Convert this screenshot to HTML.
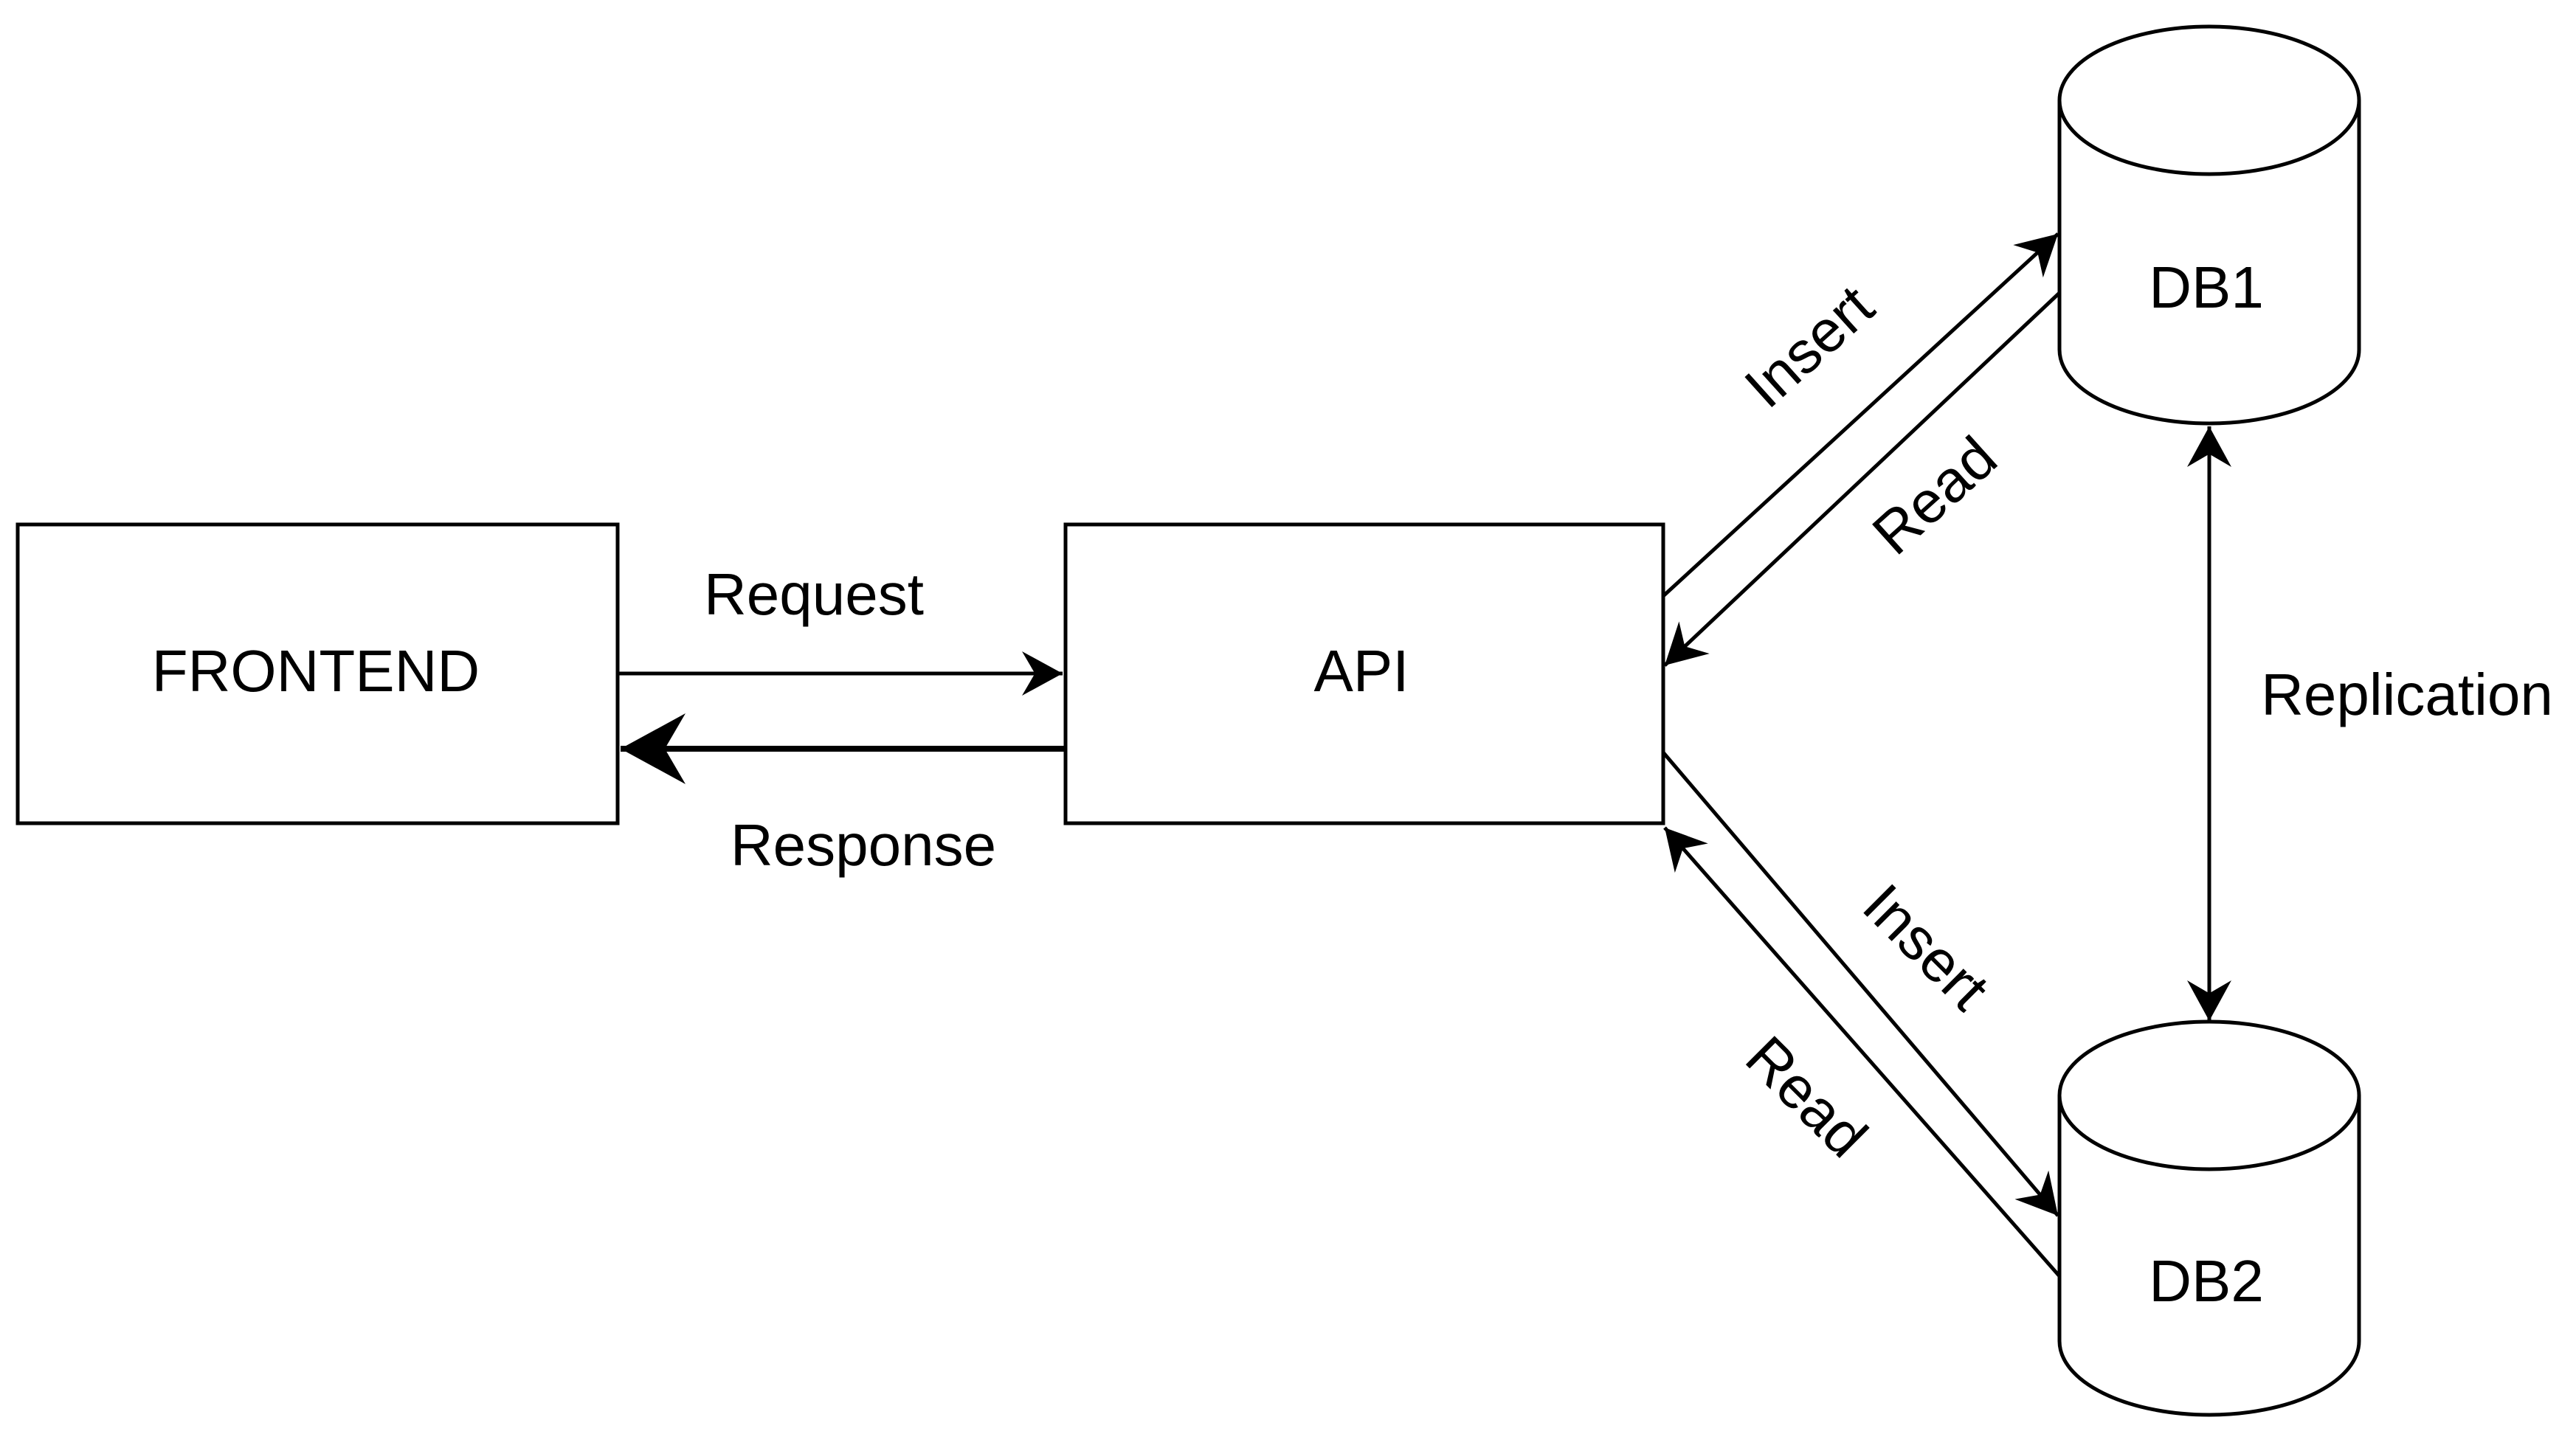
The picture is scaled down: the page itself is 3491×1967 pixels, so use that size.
<!DOCTYPE html>
<html><head><meta charset="utf-8"><style>
html,body{margin:0;padding:0;background:#fff;}
svg{display:block;}
text{font-family:"Liberation Sans",Arial,sans-serif;fill:#000;}
</style></head><body>
<svg width="3491" height="1967" viewBox="0 0 3491 1967" xmlns="http://www.w3.org/2000/svg">
<defs>
<marker id="a" markerWidth="14" markerHeight="12" refX="11" refY="6" orient="auto-start-reverse" markerUnits="strokeWidth">
<path d="M0,0 L11,6 L0,12 L3.5,6 Z" fill="#000"/>
</marker>
</defs>
<rect width="3491" height="1967" fill="#fff"/>
<g fill="#fff" stroke="#000" stroke-width="5">
<rect x="24" y="711" width="813" height="405"/>
<rect x="1444" y="711" width="810" height="405"/>
<path d="M2791,136 A203,100 0 0 1 3197,136 L3197,474 A203,100 0 0 1 2791,474 Z"/>
<path d="M2791,136 A203,100 0 0 0 3197,136" fill="none"/>
<path d="M2791,1485 A203,100 0 0 1 3197,1485 L3197,1818 A203,100 0 0 1 2791,1818 Z"/>
<path d="M2791,1485 A203,100 0 0 0 3197,1485" fill="none"/>
</g>
<g stroke="#000" stroke-width="5" fill="none">
<line x1="837" y1="913" x2="1440" y2="913" marker-end="url(#a)"/>
<line x1="1444" y1="1015" x2="841" y2="1015" stroke-width="8" marker-end="url(#a)"/>
<line x1="2254" y1="808" x2="2789" y2="317" marker-end="url(#a)"/>
<line x1="2791" y1="397" x2="2256" y2="902" marker-end="url(#a)"/>
<line x1="2254" y1="1020" x2="2789" y2="1648" marker-end="url(#a)"/>
<line x1="2791" y1="1730" x2="2256" y2="1122" marker-end="url(#a)"/>
<line x1="2994" y1="578" x2="2994" y2="1384" marker-start="url(#a)" marker-end="url(#a)"/>
</g>
<g font-size="80" text-anchor="middle">
<text x="428" y="937">FRONTEND</text>
<text x="1845" y="937">API</text>
<text x="2990" y="417">DB1</text>
<text x="2990" y="1764">DB2</text>
<text x="1103" y="833">Request</text>
<text x="1170" y="1173">Response</text>
<text x="3262" y="969">Replication</text>
<text transform="translate(2452,470) rotate(-42)" y="27">Insert</text>
<text transform="translate(2622,672) rotate(-42)" y="27">Read</text>
<text transform="translate(2610,1284) rotate(45)" y="27">Insert</text>
<text transform="translate(2448,1487) rotate(45)" y="27">Read</text>
</g>
</svg>
</body></html>
